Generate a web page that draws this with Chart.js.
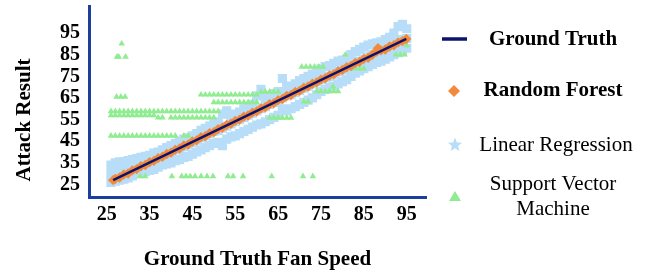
<!DOCTYPE html>
<html><head><meta charset="utf-8">
<script src="https://cdn.jsdelivr.net/npm/chart.js@4.4.0/dist/chart.umd.min.js"></script>
<style>html,body{margin:0;padding:0;background:#fff;}#wrap{width:660px;height:276px;}</style>
</head><body><div id="wrap"><canvas id="c" width="660" height="276"></canvas></div>
<script>
const xTicks = [25, 35, 45, 55, 65, 75, 85, 95];
const yTicks = [25, 35, 45, 55, 65, 75, 85, 95];
const seriesNames = ['Ground Truth', 'Random Forest', 'Linear Regression', 'Support Vector', 'Machine'];
const xTitle = 'Ground Truth Fan Speed';
const yTitle = 'Attack Result';

// Ground truth line
const gtX = [26.5, 94.9];
const gtY = [27.0, 92.3];

// Random forest predictions
const rfX = [26.5, 27, 28, 29, 30, 31, 32, 33, 34, 35, 36, 37, 38, 39, 40, 41, 42, 43, 44, 45, 46, 47, 48, 49, 50,
  51, 52, 53, 54, 55, 56, 57, 58, 59, 60, 61, 62, 63, 64, 65, 66, 67, 68, 69, 70, 71, 72, 73, 74, 75,
  76, 77, 78, 79, 80, 81, 82, 83, 84, 85, 86, 87, 88, 88.3, 89, 90, 91, 92, 93, 94, 94.9];
const rfY = [27.0, 27.6, 28.2, 29.6, 30.1, 31.5, 32.1, 33.4, 34.0, 35.3, 35.9, 37.2, 37.8, 39.1, 39.7, 41.0, 41.6, 43.0, 43.5, 44.9, 45.4, 46.8, 47.3, 48.7, 49.2,
  50.6, 51.2, 52.5, 53.1, 54.4, 55.0, 56.3, 56.9, 58.2, 58.8, 60.1, 60.7, 62.1, 62.6, 64.0, 64.5, 65.9, 66.4, 67.8, 68.3, 69.7, 70.3, 71.6, 72.2, 73.5,
  74.1, 75.4, 76.0, 77.3, 77.9, 79.2, 79.8, 81.2, 81.7, 83.1, 83.6, 85.0, 86.5, 88.0, 87.0, 87.4, 88.8, 89.4, 90.7, 91.3, 92.3];

// Linear regression predictions (lower, middle, upper of the spread at each speed)
const lrX = [26, 27, 28, 29, 30, 31, 32, 33, 34, 35, 36, 37, 38, 39, 40, 41, 42, 43, 44, 45, 46, 47, 48, 49, 50,
  51, 52, 53, 54, 55, 56, 57, 58, 59, 60, 61, 62, 63, 64, 65, 66, 67, 68, 69, 70, 71, 72, 73, 74, 75,
  76, 77, 78, 79, 80, 81, 82, 83, 84, 85, 86, 87, 88, 89, 90, 91, 92, 93, 94, 95];
const lrLow = [26, 26.5, 27, 27.5, 28, 29, 30, 30.5, 31, 31.5, 32, 33, 34, 34.5, 35, 36, 36.5, 37.5, 38, 39, 40, 41, 42, 43, 44,
  44.5, 43, 46, 47, 47.5, 48.5, 49.5, 50.5, 51.5, 52.5, 53, 54, 55, 56, 57, 60, 59, 60, 61, 62, 63, 64, 65, 66.5, 68,
  69, 70, 70.5, 71.5, 72.5, 73.5, 75, 76.5, 77.5, 78.5, 79.5, 80.5, 81.5, 82, 83, 84, 85, 86, 87, 88];
const lrMid = [30, 31, 32, 32, 32.5, 33, 34, 34.5, 35, 35.5, 36, 37.5, 38, 39, 40, 41, 41.5, 42.5, 43.5, 44.5, 45.5, 46.5, 47.5, 48.5, 49.5,
  50, 51, 52, 53, 54, 55, 56, 57, 58, 59, 60, 61, 62, 63, 64, 65, 66, 66.5, 67.5, 68.5, 69.5, 70.5, 71.5, 72.5, 73.5,
  74.5, 75, 76, 77, 78, 79, 80, 81, 82, 83, 84, 85, 86, 87, 88, 89, 90, 91, 92, 92.5];
const lrHigh = [34, 35, 35.5, 35.5, 36, 36.5, 37, 37.5, 38, 38.5, 39.5, 40, 41, 42, 43, 44, 45, 46, 46.5, 47.5, 48.5, 50, 51, 52, 53,
  54, 57.5, 59, 57, 57.5, 58.5, 60, 61, 62, 66, 69, 65, 66, 67, 68, 74, 70, 70.5, 71.5, 73, 74, 75, 76, 77.5, 78.5,
  79.5, 80, 81, 82, 82.5, 83, 85, 86.5, 87.5, 88.5, 89.5, 90, 90.5, 91, 92, 93, 95, 98, 99, 97];

// Support vector machine predictions, grouped by predicted level
const svmRowY = [90.1, 84.0, 65.5, 58.8, 57.0, 55.9, 47.5, 66.5, 63.0, 67.8, 55.8, 79.4, 68.1, 70.3, 63.3, 78.6, 85.0, 89.3, 28.8];
const svmRowX = [
  [28.5],
  [27.4, 27.8, 29.4],
  [27.3, 28.3, 29.3],
  [26, 27, 28, 29, 30, 31, 32, 33, 34, 35, 36, 37, 38, 39, 40, 41, 42, 43, 44, 45, 46, 47, 48, 49, 50, 51],
  [26, 27, 28, 29, 30, 31, 32, 33, 34, 35, 36],
  [37, 38, 40, 41, 42, 43, 44, 45, 46, 47, 48, 49, 50],
  [26, 27, 28, 29, 30, 31, 32, 33, 34, 35, 36, 37, 38, 39, 40, 41, 43, 44],
  [47, 48, 49, 50, 51, 52, 53, 54, 55, 56, 57, 58, 59, 60],
  [50, 51, 52, 53, 54, 55, 56, 57, 58, 59, 60],
  [61, 62, 63, 64, 65],
  [63, 64, 65, 66, 67, 68],
  [70.5, 71.5, 72.5, 73.5, 74.5, 75.5],
  [74, 75, 76, 77, 78, 79],
  [77.8],
  [71, 72],
  [83, 84, 85],
  [80.7, 92.5, 93.5, 94.5],
  [95],
  [32.8, 34, 40.2, 42.5, 43.5, 44.5, 45.6, 47, 48.4, 49.8, 53.3, 54.5, 56.8, 63.5, 70.8, 73.1]
];

const FONT = 'Liberation Serif, Times New Roman, serif';
const axisColor = '#1c3f9e';
const gtColor = '#0b136e';
const rfColor = '#f28a3c';
const lrColor = '#b8ddf9';
const svmColor = '#90ec90';

const gtData = gtX.map((x, i) => ({ x, y: gtY[i] }));
const rfData = rfX.map((x, i) => ({ x, y: rfY[i] }));
const lrData = lrX.flatMap((x, i) => [{ x, y: lrLow[i] }, { x, y: lrMid[i] }, { x, y: lrHigh[i] }]);
const svmData = svmRowY.flatMap((y, i) => svmRowX[i].map(x => ({ x, y })));

const legendPlugin = {
  id: 'sideLegend',
  afterDraw(chart) {
    const ctx = chart.ctx;
    ctx.save();
    // y axis title
    ctx.fillStyle = '#000';
    ctx.font = 'bold 21px ' + FONT;
    ctx.textAlign = 'center';
    ctx.textBaseline = 'middle';
    ctx.save();
    ctx.translate(25, 120);
    ctx.rotate(-Math.PI / 2);
    ctx.fillText(yTitle, 0, 0);
    ctx.restore();

    const cx = 553;
    // Ground truth
    ctx.strokeStyle = gtColor; ctx.lineWidth = 3.5;
    ctx.beginPath(); ctx.moveTo(442, 39); ctx.lineTo(467, 39); ctx.stroke();
    ctx.fillStyle = '#000';
    ctx.font = 'bold 21px ' + FONT;
    ctx.fillText(seriesNames[0], cx, 40);
    // Random forest
    ctx.fillStyle = rfColor;
    ctx.beginPath(); ctx.moveTo(454, 85); ctx.lineTo(460, 91); ctx.lineTo(454, 97); ctx.lineTo(448, 91); ctx.closePath(); ctx.fill();
    ctx.fillStyle = '#000';
    ctx.fillText(seriesNames[1], cx, 91);
    // Linear regression star
    ctx.fillStyle = lrColor;
    ctx.beginPath();
    for (let k = 0; k < 10; k++) {
      const r = k % 2 === 0 ? 7.5 : 3.2;
      const a = -Math.PI / 2 + k * Math.PI / 5;
      const px = 455 + r * Math.cos(a), py = 145 + r * Math.sin(a);
      if (k === 0) ctx.moveTo(px, py); else ctx.lineTo(px, py);
    }
    ctx.closePath(); ctx.fill();
    ctx.fillStyle = '#000';
    ctx.font = '21px ' + FONT;
    ctx.fillText(seriesNames[2], cx + 3, 145);
    // SVM triangle
    ctx.fillStyle = svmColor;
    ctx.beginPath(); ctx.moveTo(455, 191); ctx.lineTo(461, 201); ctx.lineTo(449, 201); ctx.closePath(); ctx.fill();
    ctx.fillStyle = '#000';
    ctx.fillText(seriesNames[3], cx, 184);
    ctx.fillText(seriesNames[4], cx, 209);
    ctx.restore();
  }
};

new Chart(document.getElementById('c'), {
  type: 'scatter',
  data: {
    datasets: [
      { label: seriesNames[0], data: gtData, showLine: true, borderColor: gtColor, borderWidth: 2.5, pointRadius: 0, backgroundColor: gtColor },
      { label: seriesNames[1], data: rfData, pointStyle: 'rectRot', pointRadius: 5.2, backgroundColor: rfColor, borderColor: rfColor, borderWidth: 0 },
      { label: 'Support Vector Machine', data: svmData, pointStyle: 'triangle', pointRadius: 3.8, backgroundColor: svmColor, borderColor: svmColor, borderWidth: 0 },
      { label: seriesNames[2], data: lrData, pointStyle: 'rect', pointRadius: 6.5, backgroundColor: lrColor, borderColor: lrColor, borderWidth: 0 }
    ]
  },
  options: {
    responsive: false,
    animation: false,
    events: [],
    layout: { padding: { top: 4, right: 234, left: 0, bottom: 0 } },
    plugins: { legend: { display: false }, tooltip: { enabled: false } },
    scales: {
      x: {
        type: 'linear', min: 20.87, max: 99.5,
        afterBuildTicks: s => { s.ticks = xTicks.map(v => ({ value: v })); },
        afterFit: s => { s.height = 79; s.paddingLeft = 0; s.paddingRight = 0; },
        grid: { display: false, drawTicks: false },
        border: { display: true, color: axisColor, width: 3 },
        ticks: { autoSkip: false, maxRotation: 0, padding: 6, color: '#000', font: { family: FONT, size: 20, weight: 'bold' } },
        title: { display: true, text: xTitle, color: '#000', font: { family: FONT, size: 21, weight: 'bold' }, padding: { top: 0, bottom: 4 } }
      },
      y: {
        type: 'linear', min: 19.2, max: 107.3,
        afterBuildTicks: s => { s.ticks = yTicks.map(v => ({ value: v })); },
        afterFit: s => { s.width = 89; s.paddingTop = 0; s.paddingBottom = 0; },
        grid: { display: false, drawTicks: false },
        border: { display: true, color: axisColor, width: 3 },
        ticks: { autoSkip: false, padding: 9, color: '#000', font: { family: FONT, size: 20, weight: 'bold' } }
      }
    }
  },
  plugins: [legendPlugin]
});
</script>
</body></html>
